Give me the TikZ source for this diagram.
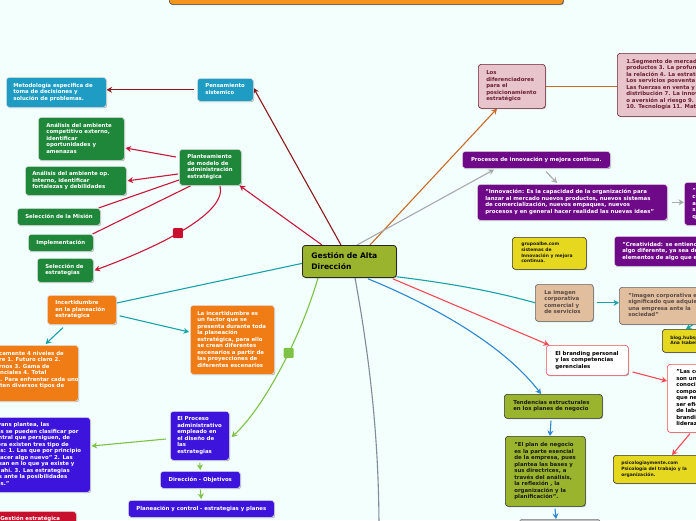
\documentclass[tikz,border=0pt]{standalone}
\usepackage{fontspec}
\setmainfont{DejaVu Sans}
\usetikzlibrary{arrows.meta,shadows}
\definecolor{bgc}{HTML}{F2FFFD}
\definecolor{cblue}{HTML}{1E9CC4}
\definecolor{cgreen}{HTML}{1E873A}
\definecolor{corange}{HTML}{EF7C14}
\definecolor{ctop}{HTML}{F7941D}
\definecolor{cviolet}{HTML}{3D14DC}
\definecolor{cpurple}{HTML}{6E0A88}
\definecolor{cpink}{HTML}{E8C5CC}
\definecolor{cpinkd}{HTML}{6B2030}
\definecolor{ctan}{HTML}{E0BE9E}
\definecolor{ctantx}{HTML}{5A4A44}
\definecolor{cyellow}{HTML}{E6D81E}
\definecolor{colive}{HTML}{9BB42D}
\definecolor{ccrim}{HTML}{C8102E}
\definecolor{ldred}{HTML}{8B1A1A}
\definecolor{lcrim}{HTML}{C8183A}
\definecolor{lteal}{HTML}{17A3A8}
\definecolor{lgreen}{HTML}{7DC243}
\definecolor{lorange}{HTML}{C86A28}
\definecolor{lgray}{HTML}{A9A9A9}
\definecolor{lred}{HTML}{F24B55}
\definecolor{lblue}{HTML}{2C86D2}
\definecolor{lslate}{HTML}{7F8C99}
\newcommand\boxtxt[2]{\makebox[#1pt][l]{\begin{tabular}{@{}l@{}}#2\end{tabular}}}
\pgfdeclarelayer{bglayer}
\pgfdeclarelayer{connlayer}
\pgfsetlayers{bglayer,connlayer,main}
\begin{document}
\begin{tikzpicture}[x=1pt,y=-1pt,
  bx/.style={rounded corners=3pt, anchor=north west, inner xsep=8pt, inner ysep=1pt,
    font=\fontsize{5.4}{6.5}\selectfont\bfseries, line width=0.6pt,
    draw=white!80!gray,
    drop shadow={shadow xshift=0.8pt,shadow yshift=-0.9pt,opacity=0.3,fill=black}},
  lightbx/.style={bx, text=white},
  darkbx/.style={bx, draw=black!80, text=black!90},
  smallfont/.style={font=\fontsize{4.5}{5.7}\selectfont\bfseries},
  conn/.style={line width=1.1pt},
  arr/.style={-{Stealth[length=5.5pt,width=6pt]}},
  sqr/.style={minimum size=10pt, inner sep=0pt, rounded corners=1pt, draw=none}
]
\begin{pgfonlayer}{bglayer}
\fill[bgc] (0,0) rectangle (696,520);
\end{pgfonlayer}
\useasboundingbox (0,0) rectangle (696,520);

% top orange box
\node[bx, fill=ctop, draw=black!70, minimum width=394pt, minimum height=34pt, inner xsep=0pt] (top) at (169,-30) {};

% centre
\node[bx, fill=colive, draw=black!85, line width=0.8pt, inner xsep=9pt, minimum height=32pt,
  font=\fontsize{7.6}{11}\selectfont\bfseries, text=black] (ctr) at (302,245)
  {\boxtxt{76}{Gestión de Alta\\Dirección}};

% left upper
\node[lightbx, fill=cblue, inner xsep=8pt, minimum height=23pt] (pens) at (197,78)
  {\boxtxt{40}{Pensamiento\\sistemico}};
\node[lightbx, fill=cblue, inner xsep=7pt, minimum height=30pt] (metod) at (6,77)
  {\boxtxt{86}{Metodología especifica de\\toma de decisiones y\\solución de problemas.}};
\node[lightbx, fill=cgreen, inner xsep=8pt, minimum height=36pt] (plant) at (179,149)
  {\boxtxt{46}{Planteamiento\\de modelo de\\administración\\estratégica}};
\node[lightbx, fill=cgreen, inner xsep=8pt, minimum height=43pt] (anext) at (38,117)
  {\boxtxt{70}{Análisis del ambiente\\competitivo externo,\\identificar\\oportunidades y\\amenazas}};
\node[lightbx, fill=cgreen, inner xsep=7pt, minimum height=29pt] (anint) at (25,166)
  {\boxtxt{87}{Análisis del ambiente op.\\interno, identificar\\fortalezas y debilidades}};
\node[lightbx, fill=cgreen, inner xsep=8pt, minimum height=17pt] (mision) at (17,208)
  {\boxtxt{67}{Selección de la Misión}};
\node[lightbx, fill=cgreen, inner xsep=8pt, minimum height=17pt] (impl) at (28,234)
  {\boxtxt{49}{Implementación}};
\node[lightbx, fill=cgreen, inner xsep=8pt, minimum height=24pt] (selestr) at (37,258)
  {\boxtxt{40}{Selección de\\estrategias}};

% left middle (orange)
\node[lightbx, fill=corange, inner xsep=8pt, minimum height=29pt] (incert) at (47,295)
  {\boxtxt{53}{Incertidumbre\\en la planeación\\estratégica}};
\node[lightbx, fill=corange, inner xsep=7pt, minimum height=69pt] (incdesc) at (190,305)
  {\boxtxt{70}{La incertidumbre es\\un factor que se\\presenta durante toda\\la planeación\\estratégica, para ello\\se crean diferentes\\escenarios a partir de\\las proyecciones de\\diferentes escenarios}};
\node[lightbx, fill=corange, inner xsep=8pt, minimum height=56pt] (niveles) at (-46,345)
  {\boxtxt{108}{Existen básicamente 4 niveles de\\incertidumbre 1. Futuro claro 2.\\Futuros alternos 3. Gama de\\futuros potenciales 4. Total\\ambigüedad. Para enfrentar cada uno\\de ellos existen diversos tipos de\\estrategias.}};

% left lower (violet)
\node[lightbx, fill=cviolet, inner xsep=8pt, minimum height=49pt, inner xsep=7pt] (proc) at (170,411)
  {\boxtxt{45}{El Proceso\\administrativo\\empleado en\\el diseño de\\las\\estrategias}};
\node[lightbx, fill=cviolet, inner xsep=8pt, minimum height=75pt] (evans) at (-39,417)
  {\boxtxt{113}{"Según Evans plantea, las\\estrategias se pueden clasificar por\\la idea central que persiguen, de\\esta manera existen tres tipo de\\estrategias: 1. Las que por principio\\buscan "hacer algo nuevo" 2. Las\\que se basan en lo que ya existe y\\parten de ahí. 3. Las estrategias\\defensivas ante la posibilidades\\de cambios."}};
\node[lightbx, fill=cviolet, minimum width=80pt, minimum height=17pt, inner xsep=2pt] (dir) at (160,471)
  {Dirección - Objetivos};
\node[lightbx, fill=cviolet, minimum width=146pt, minimum height=17pt, inner xsep=2pt] (plan) at (128,500)
  {Planeación y control - estrategias y planes};
\node[lightbx, fill=ccrim, inner xsep=6pt, inner ysep=5pt] (gest) at (-6,511)
  {\boxtxt{70}{Gestión estratégica}};

% right side
\node[bx, fill=cpink, draw=cpinkd, text=cpinkd, inner xsep=8pt, minimum height=44pt] (difer) at (478,64)
  {\boxtxt{51}{Los\\diferenciadores\\para el\\posicionamiento\\estratégico}};
\node[bx, fill=cpink, draw=cpinkd, text=cpinkd, inner xsep=9pt, minimum height=63pt] (segm) at (617,53)
  {\boxtxt{142}{1.Segmento de mercado 2. Gama de\\productos 3. La profundidad de\\la relación 4. La estrategia 5.\\Los servicios posventa 6.\\Las fuerzas en venta y\\distribución 7. La innovación 8.\\o aversión al riesgo 9. Precio\\10. Tecnología 11. Materiales}};
\node[lightbx, fill=cpurple, minimum width=148pt, minimum height=17pt, inner xsep=2pt] (procesos) at (462,151)
  {Procesos de innovación y mejora continua.};
\node[lightbx, fill=cpurple, inner xsep=8pt, minimum height=36pt] (innov) at (477,184)
  {\boxtxt{174}{"Innovación: Es la capacidad de la organización para\\lanzar al mercado nuevos productos, nuevos sistemas\\de comercialización, nuevos empaques, nuevos\\procesos y en general hacer realidad las nuevas ideas"}};
\node[lightbx, fill=cpurple, inner xsep=8pt, minimum height=43pt] (invenc) at (684,182)
  {\boxtxt{64}{"Invención:\\consiste en\\algo nuevo\\sin antes\\que exista}};
\node[darkbx, fill=cyellow, smallfont, inner xsep=9pt, minimum height=32pt] (grupo) at (512,237)
  {\boxtxt{56}{grupoalbe.com\\sistemas de\\Innovación y mejora\\continua.}};
\node[lightbx, fill=cpurple, inner xsep=8pt, minimum height=30pt] (creat) at (614,236)
  {\boxtxt{120}{"Creatividad: se entiende como\\algo diferente, ya sea de\\elementos de algo que existe}};
\node[bx, fill=ctan, draw=black!60, text=ctantx, inner xsep=9pt, minimum height=37pt] (imagen) at (535,284)
  {\boxtxt{40}{La imagen\\corporativa\\comercial y\\de servicios}};
\node[bx, fill=ctan, draw=black!60, text=ctantx, inner xsep=9pt, minimum height=37pt] (imagendef) at (619,287)
  {\boxtxt{110}{"Imagen corporativa es el\\significado que adquiere\\una empresa ante la\\sociedad"}};
\node[darkbx, fill=cyellow, smallfont, inner xsep=8pt, minimum height=23pt] (blog) at (662,329)
  {\boxtxt{70}{blog.hubspot.es\\Ana Isabel Gutiérrez}};
\node[bx, fill=white, draw=lred, text=black, inner xsep=9pt, minimum height=30pt] (brand) at (546,345)
  {\boxtxt{64}{El branding personal\\y las competencias\\gerenciales}};
\node[bx, fill=white, draw=lred, text=black, inner xsep=9pt, minimum height=68pt] (compet) at (667,364)
  {\boxtxt{70}{"Las competencias\\son un conjunto de\\conocimientos,\\comportamientos\\que necesita para\\ser eficiente en\\de labores, el\\branding y el\\liderazgo"}};
\node[darkbx, fill=cyellow, smallfont, inner xsep=8pt, minimum height=28pt] (psico) at (613,455)
  {\boxtxt{100}{psicologiaymente.com\\Psicología del trabajo y la\\organización.}};
\node[darkbx, fill=colive, inner xsep=9pt, minimum height=24pt] (tend) at (504,394)
  {\boxtxt{80}{Tendencias estructurales\\en los planes de negocio}};
\node[darkbx, fill=colive, inner xsep=9pt, minimum height=70pt] (planneg) at (505,436)
  {\boxtxt{62}{"El plan de negocio\\es la parte esencial\\de la empresa, pues\\plantea las bases y\\sus directrices, a\\través del análisis,\\la reflexión , la\\organización y la\\planificación".}};
\node[bx, fill=black!25, draw=black!50, minimum width=81pt, minimum height=22pt, inner xsep=0pt] (bottom) at (519,519) {};

\coordinate (gend) at (379,530);

\begin{pgfonlayer}{connlayer}
% dark red
\draw[conn, ldred, arr] ([xshift=39pt]ctr.north west) -- ([yshift=-10pt]pens.north east);
\draw[conn, ldred, arr] ([xshift=-3pt]pens.west) -- (pens.west -| metod.east);
% crimson
\draw[conn, lcrim, arr] ([xshift=20pt]ctr.north west) -- ([xshift=-2pt]plant.south east);
\draw[conn, lcrim, arr] ([yshift=-8pt,xshift=-3pt]plant.north west) -- ([yshift=-31pt,xshift=1pt]anext.north east);
\draw[conn, lcrim, arr] ([yshift=-25pt,xshift=-1pt]plant.north west) -- ([xshift=1pt]anint.east);
\draw[conn, lcrim] ([yshift=-31pt]plant.north west) -- ([xshift=-2pt]mision.north east);
\draw[conn, lcrim] ([xshift=12pt]plant.south west) -- ([xshift=-1pt]impl.north east);
\draw[conn, lcrim, arr] ([xshift=41pt]plant.south west) .. controls (228,215) and (150,250) .. ([xshift=1pt]selestr.east)
  node[sqr, fill=ccrim, pos=0.52] (sq1) {};
% teal
\draw[conn, lteal] ([yshift=-2pt]ctr.west) -- ([yshift=-8pt]incert.north east);
\draw[conn, lteal, arr] ([yshift=-6pt,xshift=3pt]incert.east) -- ([yshift=-27pt,xshift=-1pt]incdesc.north west);
\draw[conn, lteal, arr] ([xshift=16pt,yshift=-3pt]incert.south west) -- ([xshift=-33pt,yshift=1pt]niveles.north east);
\draw[conn, lteal] ([yshift=1pt]ctr.south east) .. controls (440,282) and (490,290) .. (imagen.west);
\draw[conn, lteal, arr] ([xshift=3pt]imagen.east) -- (imagen.east -| imagendef.west);
\draw[conn, lteal, arr] ([xshift=74pt]imagendef.south west) -- ([xshift=24pt]blog.north west);
% green
\draw[conn, lgreen, arr] ([xshift=16pt]ctr.south west) .. controls (300,340) and (262,410) .. ([yshift=-26pt,xshift=2pt]proc.north east)
  node[sqr, fill=lgreen, pos=0.4] (sq2) {};
\draw[conn, lgreen, arr] ([yshift=-28pt,xshift=-4pt]proc.north west) -- ([yshift=-29pt,xshift=1pt]evans.north east);
\draw[conn, lgreen, arr] ([yshift=-2pt]proc.south) -- ([yshift=1pt]dir.north);
\draw[conn, lgreen, arr] ([yshift=-1pt]dir.south) -- ([yshift=1pt]plan.north);
% slate gray down
\draw[conn, lslate] ([xshift=53pt]ctr.south west) .. controls (370,360) and (379,440) .. (gend);
% orange-brown
\draw[conn, lorange, arr] ([xshift=68pt]ctr.north west) -- ([xshift=19pt]difer.south west);
\draw[conn, lorange] (difer.east) -- (difer.east -| segm.west);
% gray
\draw[conn, lgray, arr] ([xshift=55pt]ctr.north west) -- ([xshift=32pt,yshift=-1pt]procesos.south west);
\draw[conn, lgray, arr] ([xshift=84pt,yshift=-3pt]procesos.south west) -- ([xshift=80pt,yshift=1pt]innov.north west);
\draw[conn, lgray, arr] ([xshift=4pt]innov.east) -- (innov.east -| invenc.west);
% red
\draw[conn, lred, arr] ([xshift=-4pt,yshift=-1pt]ctr.south east) -- ([xshift=3pt]brand.north west);
\draw[conn, lred, arr] ([yshift=-27pt,xshift=4pt]brand.north east) -- ([yshift=-17pt]compet.north west);
\draw[conn, lred, arr] ([xshift=23pt,yshift=-1pt]compet.south west) -- ([xshift=59pt]psico.north west);
% blue
\draw[conn, lblue, arr] ([xshift=66pt,yshift=-1pt]ctr.south west) .. controls (420,300) and (500,340) .. ([xshift=37pt]tend.north west);
\draw[conn, lblue, arr] ([xshift=47pt,yshift=-2pt]tend.south west) -- ([xshift=45pt]planneg.north west);
\draw[conn, lblue, arr] ([xshift=50pt,yshift=-2pt]planneg.south west) -- ([xshift=37pt]bottom.north west);
\end{pgfonlayer}
\end{tikzpicture}
\end{document}
